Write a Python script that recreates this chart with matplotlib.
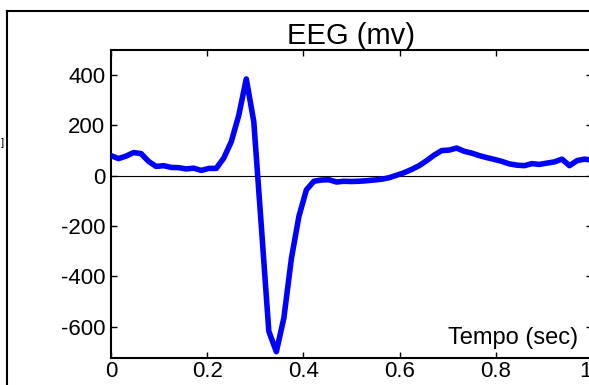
import numpy as np
import matplotlib
matplotlib.use("Agg")
import matplotlib.pyplot as plt
import matplotlib.transforms as transforms
from matplotlib.lines import Line2D

plt.rcParams['font.family'] = ['Liberation Sans', 'DejaVu Sans']
plt.rcParams['axes.unicode_minus'] = False

# EEG samples (65 samples over 1 s)
tempo = np.linspace(0, 1, 65)
eeg = [80, 68, 78, 92, 88, 57, 37, 40, 33, 32,
       27, 30, 21, 29, 29, 70, 135, 240, 385, 215,
       -200, -619, -700, -566, -330, -162, -56, -22, -17, -16,
       -25, -22, -23, -22, -20, -17, -14, -8, 2, 12,
       25, 40, 60, 82, 100, 102, 110, 97, 90, 80,
       72, 65, 57, 47, 42, 40, 48, 45, 50, 55,
       66, 40, 60, 66, 62]
xticks = [0, 0.2, 0.4, 0.6, 0.8, 1]
xticklabels = ['0', '0.2', '0.4', '0.6', '0.8', '1']
yticks = [-600, -400, -200, 0, 200, 400]

W, H = 589, 385
fig = plt.figure(figsize=(W / 100, H / 100), dpi=100)
ax = fig.add_axes([111 / W, 1 - 358 / H, (592 - 111) / W, (358 - 50) / H])

ax.plot(tempo, eeg, color=(0, 0, 1), lw=4, solid_joinstyle='round', zorder=3)
ax.axhline(0, color='k', lw=0.8, zorder=2)

ax.set_xlim(0, 1)
ax.set_ylim(-725, 500)
ax.set_xticks(xticks)
ax.set_xticklabels(xticklabels)
ax.set_yticks(yticks)
ax.tick_params(direction='in', length=4, width=1, labelsize=16,
               top=True, right=True)
ax.tick_params(axis='y', pad=4)
ax.tick_params(axis='x', pad=2)
for s in ax.spines.values():
    s.set_linewidth(1.5)

# the last x label sits a little left, as in the cropped original
lab = ax.get_xticklabels()[-1]
lab.set_transform(lab.get_transform() +
                  transforms.ScaledTranslation(-0.07, 0, fig.dpi_scale_trans))

# title and x label drawn like the original (inside/near the box)
fig.text(351 / W, 1 - 44 / H, 'EEG (mv)', ha='center', va='baseline', fontsize=21)
fig.text(578 / W, 1 - 344 / H, 'Tempo (sec)', ha='right', va='baseline', fontsize=17)
fig.text(1 / W, 1 - 143 / H, ']', ha='left', va='center', fontsize=8)

# outer frame of the original figure, partly cropped
fx, fy = 7 / W, 1 - 11 / H
fig.add_artist(Line2D([fx, fx], [0, fy], color='k', lw=1.5))
fig.add_artist(Line2D([fx, 1], [fy, fy], color='k', lw=1.5))

fig.savefig('out.png', dpi=100)
